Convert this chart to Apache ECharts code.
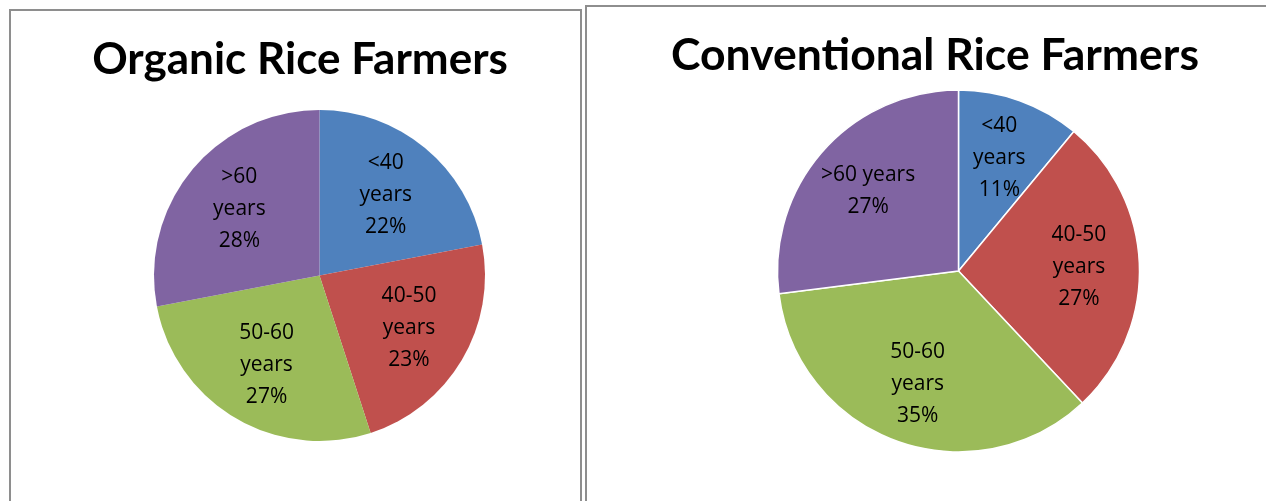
<!DOCTYPE html>
<html><head><meta charset="utf-8">
<script src="https://cdn.jsdelivr.net/npm/echarts@6/dist/echarts.min.js"></script>
<style>html,body{margin:0;padding:0;background:#fff}#c{width:1266px;height:501px}</style>
</head><body><div id="c"></div>
<script>
const colors = ['#4F81BD', '#C0504D', '#9BBB59', '#8064A2'];
const organicLabels = ['<40\nyears', '40-50\nyears', '50-60\nyears', '>60\nyears'];
const organicValues = [22, 23, 27, 28];
const conventionalLabels = ['<40\nyears', '40-50\nyears', '50-60\nyears', '>60 years'];
const conventionalValues = [11, 27, 35, 27];
const titles = ['Organic Rice Farmers', 'Conventional Rice Farmers'];

const TFONT = 'Lato, "Open Sans", sans-serif';
const LFONT = '"Open Sans", Lato, sans-serif';
function mk(labels, values) {
  return labels.map((n, i) => ({ name: n, value: values[i], itemStyle: { color: colors[i] } }));
}
function pies(labels, values, center, r, bw, lr) {
  return [
    { type: 'pie', center: center, radius: [0, r], startAngle: 90, clockwise: true,
      silent: true, animation: false,
      itemStyle: { borderColor: '#fff', borderWidth: bw },
      label: { show: false }, labelLine: { show: false },
      data: mk(labels, values) },
    { type: 'pie', center: center, radius: [0, lr], startAngle: 90, clockwise: true,
      silent: true, animation: false,
      itemStyle: { color: 'transparent', borderWidth: 0 },
      label: { show: true, position: 'inside', formatter: p => p.name + '\n' + p.value + '%',
               color: '#000', fontSize: 21, lineHeight: 32, fontFamily: LFONT, align: 'center' },
      labelLine: { show: false },
      data: labels.map((n, i) => ({ name: n, value: values[i], itemStyle: { color: 'rgba(0,0,0,0)' } })) }
  ];
}
const chart = echarts.init(document.getElementById('c'), null, { renderer: 'canvas' });
chart.setOption({
  backgroundColor: '#fff',
  animation: false,
  graphic: [
    { type: 'rect', shape: { x: 10, y: 10, width: 571, height: 520 }, style: { fill: 'none', stroke: '#8e8e8e', lineWidth: 2 }, z: -1 },
    { type: 'rect', shape: { x: 586, y: 6, width: 700, height: 520 }, style: { fill: 'none', stroke: '#8e8e8e', lineWidth: 2 }, z: -1 }
  ],
  title: [
    { text: titles[0], left: 295, top: 33, textAlign: 'center',
      textStyle: { fontSize: 44, fontWeight: 'bold', fontFamily: TFONT, color: '#000' } },
    { text: titles[1], left: 930, top: 28, textAlign: 'center',
      textStyle: { fontSize: 44.5, fontWeight: 'bold', fontFamily: TFONT, color: '#000' } }
  ],
  series: [
    ...pies(organicLabels, organicValues, [319.5, 275.5], 165.5, 0, 202),
    ...pies(conventionalLabels, conventionalValues, [958.5, 271], 181, 1.5, 235)
  ]
});
</script></body></html>
